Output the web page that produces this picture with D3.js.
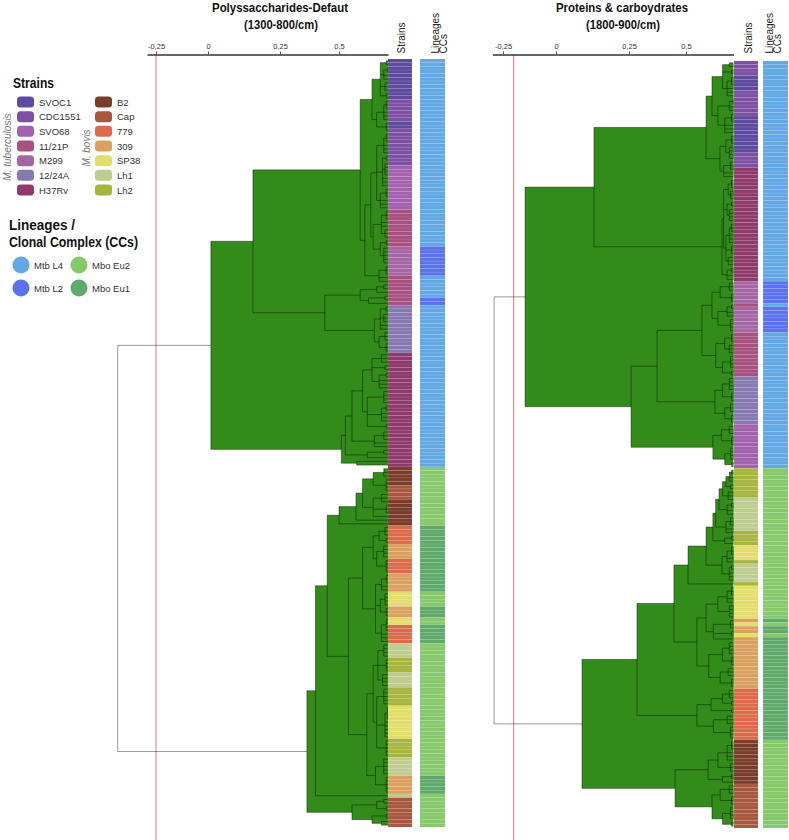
<!DOCTYPE html>
<html>
<head>
<meta charset="utf-8">
<script src="https://cdn.jsdelivr.net/npm/d3@7"></script>
<style>
  body { margin: 0; background: #fff; }
  text { font-family: "Liberation Sans", Arial, sans-serif; }
</style>
</head>
<body>
<script>
// ---- legend data ----
var strainsMtb = ["SVOC1", "CDC1551", "SVO68", "11/21P", "M299", "12/24A", "H37Rv"];
var colorsMtb = ["#5e4a9e", "#7c50a2", "#a362b0", "#a9517e", "#a665a4", "#8679b1", "#8f3a6c"];
var strainsMbo = ["B2", "Cap", "779", "309", "SP38", "Lh1", "Lh2"];
var colorsMbo = ["#7b3d2b", "#a9573e", "#dd6b4b", "#dba05e", "#e3dd6c", "#bfcc8f", "#a7b43e"];
var lineages = ["Mtb L4", "Mtb L2", "Mbo Eu2", "Mbo Eu1"];
var lineageColors = ["#62a8e5", "#5a72ee", "#86c96a", "#5fa96b"];

var tickValues = [-0.25, 0, 0.25, 0.5];
var tickLabels = ["-0,25", "0", "0,25", "0,5"];
var leafValue = 0.708;

// ---- left: Polyssaccharides ----
var leftStrainRuns = [["SVOC1",11],["CDC1551",6],["SVOC1",2],["CDC1551",10],["SVO68",12],["11/21P",10],["M299",8],["11/21P",8],["12/24A",13],["H37Rv",31],
  ["B2",5],["Cap",4],["B2",7],["779",5],["309",4],["779",4],["309",5],["SP38",4],["309",3],["SP38",2],["779",5],
  ["Lh1",4],["Lh2",4],["Lh1",4],["Lh2",5],["SP38",9],["Lh2",5],["Lh1",5],["309",5],["Lh1",1],["Cap",8]];
var leftLineageRuns = [["Mtb L4",51],["Mtb L2",8],["Mtb L4",6],["Mtb L2",2],["Mtb L4",44],
  ["Mbo Eu2",16],["Mbo Eu1",18],["Mbo Eu2",4],["Mbo Eu1",3],["Mbo Eu2",2],["Mbo Eu1",5],["Mbo Eu2",36],["Mbo Eu1",5],["Mbo Eu2",9]];
var leftCutoff = -0.25;
// node = [height, child, ...]; a number n = n leaves joined at that node
var leftTree = [-0.433,
  [0.01,
    [0.156,
      [0.59,
        [0.64,
          [0.675, [0.70,2], [0.69,[0.705,2],2], [0.695,3], [0.70,2]],
          [0.66, [0.69,[0.70,3],3], [0.70,3]]],
        [0.61,
          [0.635,
            [0.66, [0.69,[0.70,3],3], [0.685,[0.70,2],[0.695,4],3], [0.675,[0.70,3],3]],
            [0.645, [0.68,[0.70,3],2,[0.695,3]], [0.675,[0.70,2],[0.69,5]]]],
          [0.67, [0.70,3], 2]]],
      [0.44,
        [0.59, [0.66,[0.69,2],1], [0.625,[0.695,2],1]],
        [0.65, [0.675,[0.70,2],[0.69,3],2], [0.67,[0.695,3],[0.70,3]]]]],
    [0.51,
      [0.527,
        [0.555,
          [0.60, [0.64,[0.68,3],[0.695,2],[0.67,[0.70,2],3]], [0.62,[0.69,4],[0.68,[0.70,2],3],[0.70,2]]],
          [0.65, [0.69,3], 2]],
        [0.62, [0.69,2], 1]],
      [0.575, 1, 1]]],
  [0.364,
    [0.40,
      [0.45,
        [0.50,
          [0.572,
            [0.60, [0.645,[0.69,3],[0.70,4]], [0.645,[0.68,3],[0.70,3],1]],
            1],
          1],
        [0.54,
          [0.60,
            [0.645, [0.67,[0.695,3],[0.70,2]], [0.66,[0.69,4],[0.70,4]]],
            [0.655, [0.68,[0.70,3],2], [0.675,[0.695,4],[0.70,3]], [0.68,[0.70,4],3]]],
          [0.618,
            [0.645, [0.665,[0.69,4],[0.70,4],[0.685,4]], [0.66,[0.69,5],[0.695,[0.705,4],5],[0.70,5]]],
            [0.655, [0.69,5], [0.70,5]]]]],
      1],
    [0.555, [0.66,[0.69,2],[0.70,2]], [0.64,[0.70,2],[0.68,2]]]]];

// ---- right: Proteins & carbohydrates ----
var rightStrainRuns = [["CDC1551",4],["SVOC1",4],["CDC1551",7],["SVOC1",10],["CDC1551",4],["H37Rv",31],["M299",6],["11/21P",1],["M299",7],["11/21P",12],["12/24A",13],["SVO68",12],
  ["Lh2",8],["Lh1",9],["Lh2",4],["SP38",4],["Lh2",1],["Lh1",5],["Lh2",1],["SP38",9],["309",1],["SP38",1],["309",2],["SP38",1],["309",14],["779",14],["B2",12],["Cap",12]];
var rightLineageRuns = [["Mtb L4",60],["Mtb L2",6],["Mtb L4",1],["Mtb L2",7],["Mtb L4",37],
  ["Mbo Eu2",41],["Mbo Eu1",1],["Mbo Eu2",1],["Mbo Eu1",2],["Mbo Eu2",1],["Mbo Eu1",28],["Mbo Eu2",24]];
var rightCutoff = -0.2;
var rightTree = [-0.292,
  [-0.146,
    [0.13,
      [0.588,
        [0.614,
          [0.66, [0.69,2], [0.70,2], [0.68,[0.70,3],3]],
          [0.64, [0.69,[0.705,2],2], [0.67,[0.70,3],3]]],
        [0.649,
          [0.675, [0.70,3], [0.69,4]],
          [0.665, [0.695,3], 2]]],
      [0.658,
        [0.665, [0.685,[0.70,3],[0.695,3]], [0.68,[0.70,2],[0.69,4]], [0.675,[0.69,[0.70,3],3],[0.70,3],[0.685,3]]],
        [0.68, [0.70,2], 2]]],
    [0.259,
      [0.373,
        [0.57,
          [0.614, [0.65,[0.69,3],[0.70,3]], [0.64,[0.68,[0.70,2],2],[0.695,4]]],
          [0.631, [0.67,[0.70,3],[0.69,3]], [0.66,[0.695,4],[0.70,2]]]],
        [0.627, [0.66,[0.69,4],[0.70,3]], [0.67,[0.695,3],[0.70,3]]]],
      [0.618, [0.655,[0.69,3],[0.70,3]], [0.67,[0.695,4],[0.70,2]]]]],
  [0.089,
    [0.285,
      [0.447,
        [0.509,
          [0.588,
            [0.618, [0.63, [0.645, [0.66, [0.675, [0.69,[0.70,2],2], [0.695,2]], [0.685,3]], [0.68,[0.70,2],2]], [0.675,[0.695,3],2]], [0.67,[0.70,2],1]],
            [0.658, [0.68,[0.70,3],2], [0.69,[0.70,2],3]]],
          1],
        [0.548,
          [0.588, [0.64,[0.68,[0.70,3],2],[0.69,4]], [0.62,[0.695,3],[0.70,2],1]],
          [0.60, [0.66,[0.69,4],[0.70,3]], [0.65,[0.685,3],[0.70,3]]]]],
      [0.548, [0.61,[0.66,[0.69,3],[0.70,2]],[0.68,[0.70,2]]], [0.62,[0.68,3],[0.695,4]]]],
    [0.452,
      [0.597, [0.64,[0.68,[0.70,3],3],[0.695,3]], [0.66,[0.70,2],1]],
      [0.614, [0.65,[0.69,3],[0.70,3]], [0.66,[0.695,4],[0.70,2]]]]]];

// ---- helpers ----
var strainColor = {};
strainsMtb.forEach(function (s, i) { strainColor[s] = colorsMtb[i]; });
strainsMbo.forEach(function (s, i) { strainColor[s] = colorsMbo[i]; });
var lineageColor = {};
lineages.forEach(function (s, i) { lineageColor[s] = lineageColors[i]; });

function expandRuns(runs) {
  var out = [];
  runs.forEach(function (r) { for (var k = 0; k < r[1]; k++) out.push(r[0]); });
  return out;
}
function toNode(a) {
  var kids = [];
  a.slice(1).forEach(function (c) {
    if (typeof c === "number") { for (var k = 0; k < c; k++) kids.push({}); }
    else kids.push(toNode(c));
  });
  return { h: a[0], children: kids };
}

var W = 789, H = 840;
var svg = d3.select("body").append("svg").attr("width", W).attr("height", H);

var panels = [
  { title: ["Polyssaccharides-Defaut", "(1300-800/cm)"], titleX: 280, titleW: 136,
    tree: leftTree, strains: leftStrainRuns, lins: leftLineageRuns, cut: leftCutoff,
    x: d3.scaleLinear().domain([-0.293, -0.25, 0, 0.25, 0.5, leafValue]).range([147, 156, 208, 280, 339, 388]),
    axisY: 54.5, top: 59, bottom: 827, strainX: [388, 412], linX: [420, 445],
    strLabelX: 405, linLabelX: [439, 447] },
  { title: ["Proteins & carboydrates", "(1800-900/cm)"], titleX: 622, titleW: 132,
    tree: rightTree, strains: rightStrainRuns, lins: rightLineageRuns, cut: rightCutoff,
    x: d3.scaleLinear().domain([-0.3, -0.25, 0, 0.25, 0.5, leafValue]).range([492.4, 503, 556, 629, 686, 733.4]),
    axisY: 54.5, top: 61, bottom: 828, strainX: [734, 758], linX: [763, 788],
    strLabelX: 752, linLabelX: [773, 781] }
];

panels.forEach(function (p) {
  var g = svg.append("g");

  // titles
  g.append("text").attr("x", p.titleX).attr("y", 12).attr("text-anchor", "middle")
    .attr("font-size", 13).attr("font-weight", "bold").attr("fill", "#111")
    .attr("textLength", p.titleW).attr("lengthAdjust", "spacingAndGlyphs").text(p.title[0]);
  g.append("text").attr("x", p.titleX + 1).attr("y", 28.5).attr("text-anchor", "middle")
    .attr("font-size", 13).attr("font-weight", "bold").attr("fill", "#111")
    .attr("textLength", 74).attr("lengthAdjust", "spacingAndGlyphs").text(p.title[1]);

  // red cut-off line
  g.append("line").attr("x1", p.x(p.cut)).attr("x2", p.x(p.cut))
    .attr("y1", p.axisY).attr("y2", H).attr("stroke", "#f28b86").attr("stroke-width", 1.2);

  // axis
  var ax = g.append("g").attr("transform", "translate(0," + p.axisY + ")")
    .call(d3.axisTop(p.x).tickValues(tickValues).tickSize(3).tickSizeOuter(0)
      .tickFormat(function (d, i) { return tickLabels[i]; }));
  ax.select(".domain").attr("stroke", "#333").attr("stroke-width", 1.4);
  ax.selectAll(".tick line").attr("stroke", "#555");
  ax.selectAll(".tick text").attr("font-family", "Liberation Sans, Arial, sans-serif")
    .attr("font-size", 7.5).attr("fill", "#333").attr("dy", "0.1em");

  // tree layout
  var root = d3.hierarchy(toNode(p.tree));
  var leaves = root.leaves();
  var N = leaves.length;
  var y = d3.scaleLinear().domain([0, N]).range([p.top, p.bottom]);
  var xLeaf = p.x(leafValue);
  leaves.forEach(function (l, i) { l.py = y(i + 0.5); l.px = xLeaf; });
  root.eachAfter(function (n) {
    if (n.children) {
      n.px = p.x(n.data.h);
      n.py = (n.children[0].py + n.children[n.children.length - 1].py) / 2;
    }
  });
  var inner = root.descendants().filter(function (n) { return n.children; });

  g.append("g").selectAll("rect")
    .data(inner.filter(function (n) { return n !== root; }))
    .enter().append("rect")
    .attr("x", function (n) { return n.px; })
    .attr("y", function (n) { return n.children[0].py; })
    .attr("width", function (n) { return xLeaf - n.px; })
    .attr("height", function (n) { return n.children[n.children.length - 1].py - n.children[0].py; })
    .attr("fill", "#338c1a");

  var path = "";
  inner.forEach(function (n) {
    var c0 = n.children[0], c1 = n.children[n.children.length - 1];
    path += "M" + n.px + "," + c0.py + "V" + c1.py;
    n.children.forEach(function (c) { path += "M" + n.px + "," + c.py + "H" + c.px; });
  });
  g.append("path").attr("d", path).attr("fill", "none")
    .attr("stroke", "#000").attr("stroke-opacity", 0.45).attr("stroke-width", 0.9);

  // colour strips
  var sCells = expandRuns(p.strains);
  var lCells = expandRuns(p.lins);
  g.append("g").selectAll("rect").data(sCells).enter().append("rect")
    .attr("x", p.strainX[0]).attr("width", p.strainX[1] - p.strainX[0])
    .attr("y", function (d, i) { return y(i); })
    .attr("height", function (d, i) { return y(i + 1) - y(i); })
    .attr("fill", function (d) { return strainColor[d]; })
    .attr("stroke", "#fff").attr("stroke-opacity", 0.12).attr("stroke-width", 0.6);
  g.append("g").selectAll("rect").data(lCells).enter().append("rect")
    .attr("x", p.linX[0]).attr("width", p.linX[1] - p.linX[0])
    .attr("y", function (d, i) { return y(i); })
    .attr("height", function (d, i) { return y(i + 1) - y(i); })
    .attr("fill", function (d) { return lineageColor[d]; })
    .attr("stroke", "#fff").attr("stroke-opacity", 0.12).attr("stroke-width", 0.6);

  // strip headers
  g.append("text").attr("transform", "translate(" + p.strLabelX + "," + (p.axisY - 1) + ") rotate(-90)")
    .attr("font-size", 10).attr("fill", "#222").text("Strains");
  g.append("text").attr("transform", "translate(" + p.linLabelX[0] + "," + (p.axisY - 1) + ") rotate(-90)")
    .attr("font-size", 10).attr("fill", "#222").text("Lineages");
  g.append("text").attr("transform", "translate(" + p.linLabelX[1] + "," + (p.axisY - 1) + ") rotate(-90)")
    .attr("font-size", 10).attr("fill", "#222").text("CCs");
});

// ---- legend ----
var lg = svg.append("g");
lg.append("text").attr("x", 13).attr("y", 88).attr("font-size", 15).attr("font-weight", "bold")
  .attr("fill", "#111").attr("textLength", 41).attr("lengthAdjust", "spacingAndGlyphs").text("Strains");

var rowY = d3.scaleLinear().domain([0, 6]).range([102, 190]);
[[strainsMtb, colorsMtb, 17], [strainsMbo, colorsMbo, 95]].forEach(function (col) {
  var names = col[0], cols = col[1], x0 = col[2];
  names.forEach(function (s, i) {
    lg.append("rect").attr("x", x0).attr("y", rowY(i) - 5.5).attr("width", 17).attr("height", 11)
      .attr("rx", 3.5).attr("fill", cols[i]);
    lg.append("text").attr("x", x0 + 22).attr("y", rowY(i) + 3.6).attr("font-size", 9.5)
      .attr("fill", "#333").text(s);
  });
});
lg.append("text").attr("transform", "translate(11,147) rotate(-90)").attr("text-anchor", "middle")
  .attr("font-size", 10).attr("font-style", "italic").attr("fill", "#777").text("M. tuberculosis");
lg.append("text").attr("transform", "translate(90,148) rotate(-90)").attr("text-anchor", "middle")
  .attr("font-size", 10).attr("font-style", "italic").attr("fill", "#777").text("M. bovis");

lg.append("text").attr("x", 9).attr("y", 230).attr("font-size", 14).attr("font-weight", "bold")
  .attr("fill", "#111").attr("textLength", 66).attr("lengthAdjust", "spacingAndGlyphs").text("Lineages /");
lg.append("text").attr("x", 9).attr("y", 247).attr("font-size", 14).attr("font-weight", "bold")
  .attr("fill", "#111").attr("textLength", 129).attr("lengthAdjust", "spacingAndGlyphs").text("Clonal Complex (CCs)");

var linPos = [[21, 265], [21, 288], [79, 265], [79, 288]];
lineages.forEach(function (s, i) {
  lg.append("circle").attr("cx", linPos[i][0]).attr("cy", linPos[i][1]).attr("r", 8.5)
    .attr("fill", lineageColors[i]);
  lg.append("text").attr("x", linPos[i][0] + 13).attr("y", linPos[i][1] + 3.5)
    .attr("font-size", 9.5).attr("fill", "#333").text(s);
});
</script>
</body>
</html>
